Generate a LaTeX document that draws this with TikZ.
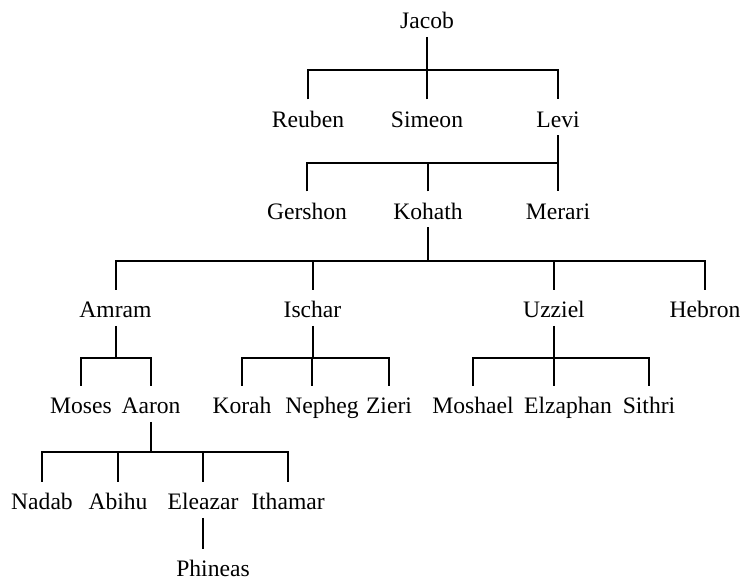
\documentclass[tikz,border=0pt]{standalone}
\usepackage{fontspec}
\setmainfont{Liberation Serif}
\usepackage{tikz}

\tikzset{
  person/.style={anchor=base, inner sep=0pt, outer ysep=4pt,
    text height=10pt, text depth=0pt, font=\fontsize{11.8}{14}\selectfont},
  kin/.style={line width=1pt}
}

\begin{document}
\begin{tikzpicture}[x=0.5pt,y=-0.5pt]
    \useasboundingbox (0,0) rectangle (745,582);

    % Bar heights
    \coordinate (bar1) at (0,70);
    \coordinate (bar2) at (0,163);
    \coordinate (bar3) at (0,261);
    \coordinate (bar4) at (0,358);
    \coordinate (bar5) at (0,452);

    % Names
    \node[person] (jacob) at (427,29) {Jacob};

    \node[person] (reuben) at (308,127.5) {Reuben};
    \node[person] (simeon) at (427,127.5) {Simeon};
    \node[person] (levi) at (558,127.5) {Levi};

    \node[person] (gershon) at (307,219.5) {Gershon};
    \node[person] (kohath) at (428,219.5) {Kohath};
    \node[person] (merari) at (558,219.5) {Merari};

    \node[person] (amram) at (115.5,318) {Amram};
    \node[person] (ischar) at (312.5,318) {Ischar};
    \node[person] (uzziel) at (554,318) {Uzziel};
    \node[person] (hebron) at (705,318) {Hebron};

    \node[person] (moses) at (81,414) {Moses};
    \node[person] (aaron) at (151,414) {Aaron};
    \node[person] (korah) at (242,414) {Korah};
    \node[person] (nepheg) at (322,414) {Nepheg};
    \node[person] (zieri) at (389,414) {Zieri};
    \node[person] (moshael) at (473,414) {Moshael};
    \node[person] (elzaphan) at (568,414) {Elzaphan};
    \node[person] (sithri) at (649,414) {Sithri};

    \node[person] (nadab) at (42,510) {Nadab};
    \node[person] (abihu) at (118,510) {Abihu};
    \node[person] (eleazar) at (203,510) {Eleazar};
    \node[person] (ithamar) at (288,510) {Ithamar};

    \node[person] (phineas) at (213,577) {Phineas};

    % Drop points set off from the name
    \coordinate (nephegtop) at ([xshift=-5pt]nepheg.north);
    \coordinate (elzaphantop) at ([xshift=-7pt]elzaphan.north);
    \coordinate (phineastop) at ([xshift=-5pt]phineas.north);

    % Jacob
    \draw[kin] (jacob.south) -- (jacob.south |- bar1);
    \draw[kin] (reuben.north) |- (levi.north |- bar1) -- (levi.north);
    \draw[kin] (simeon.north) -- (simeon.north |- bar1);

    % Levi
    \draw[kin] (levi.south) -- (merari.north);
    \draw[kin] (gershon.north) |- (merari.north |- bar2);
    \draw[kin] (kohath.north) -- (kohath.north |- bar2);

    % Kohath
    \draw[kin] (kohath.south) -- (kohath.south |- bar3);
    \draw[kin] (amram.north) |- (hebron.north |- bar3) -- (hebron.north);
    \draw[kin] (ischar.north) -- (ischar.north |- bar3);
    \draw[kin] (uzziel.north) -- (uzziel.north |- bar3);

    % Amram
    \draw[kin] (amram.south) -- (amram.south |- bar4);
    \draw[kin] (moses.north) |- (aaron.north |- bar4) -- (aaron.north);

    % Ischar
    \draw[kin] (ischar.south) -- (ischar.south |- bar4);
    \draw[kin] (korah.north) |- (zieri.north |- bar4) -- (zieri.north);
    \draw[kin] (nephegtop) -- (nephegtop |- bar4);

    % Uzziel
    \draw[kin] (uzziel.south) -- (uzziel.south |- bar4);
    \draw[kin] (moshael.north) |- (sithri.north |- bar4) -- (sithri.north);
    \draw[kin] (elzaphantop) -- (elzaphantop |- bar4);

    % Aaron
    \draw[kin] (aaron.south) -- (aaron.south |- bar5);
    \draw[kin] (nadab.north) |- (ithamar.north |- bar5) -- (ithamar.north);
    \draw[kin] (abihu.north) -- (abihu.north |- bar5);
    \draw[kin] (eleazar.north) -- (eleazar.north |- bar5);

    % Eleazar
    \draw[kin] (eleazar.south) -- (phineastop);
\end{tikzpicture}
\end{document}
